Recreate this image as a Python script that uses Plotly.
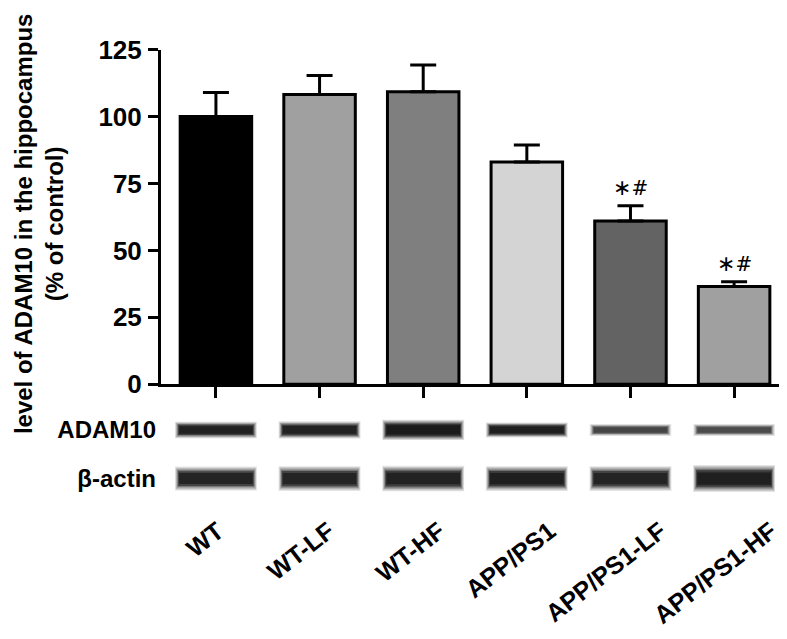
import plotly.graph_objects as go

# ADAM10 level in hippocampus, % of WT control
groups = ["WT", "WT-LF", "WT-HF", "APP/PS1", "APP/PS1-LF", "APP/PS1-HF"]
adam10_mean = [100, 108.3, 109.3, 83, 61, 36.5]
adam10_sem = [9, 7.1, 10, 6.4, 5.7, 1.8]
bar_colors = ["#000000", "#a0a0a0", "#7f7f7f", "#d4d4d4", "#636363", "#a0a0a0"]
significance = ["", "", "", "", "\u2217#", "\u2217#"]
y_ticks = [0, 25, 50, 75, 100, 125]

# western blot lanes: band thickness (row units) and darkness (0-1)
blot_rows = ["\u03b2-actin", "ADAM10"]
adam10_band = [0.22, 0.23, 0.27, 0.2, 0.16, 0.16]
adam10_dark = [0.9, 0.92, 1.0, 0.95, 0.62, 0.58]
actin_band = [0.32, 0.33, 0.34, 0.33, 0.33, 0.36]
actin_dark = [0.88, 0.88, 0.92, 0.95, 0.88, 0.95]

W, H = 787, 639
FONT = "Liberation Sans, Arial, sans-serif"
xdom = [153 / W, 780 / W]
xrange = [-0.53, 5.52]

fig = go.Figure()

fig.add_trace(go.Bar(
    x=groups, y=adam10_mean, width=0.69,
    marker=dict(color=bar_colors, line=dict(color="black", width=3)),
    error_y=dict(type="data", array=adam10_sem, arrayminus=[0] * len(groups),
                 symmetric=False, thickness=3, width=13, color="black"),
    showlegend=False, hoverinfo="skip",
))


def add_bands(row, thick, dark):
    # stacked translucent layers fake the soft edge of a blot band
    layers = [(1.55, 0.12, 0.79), (1.4, 0.16, 0.775), (1.25, 0.22, 0.76),
              (1.1, 0.3, 0.745), (0.95, 0.55, 0.73), (0.7, 0.6, 0.71)]
    for scale, alpha, w in layers:
        t = [v * scale for v in thick]
        fig.add_trace(go.Bar(
            x=groups, y=t, base=[row - v / 2 for v in t], width=w,
            marker=dict(color=[f"rgba(10,10,10,{d * alpha:.3f})" for d in dark],
                        line=dict(width=0)),
            xaxis="x2", yaxis="y2", showlegend=False, hoverinfo="skip",
        ))


add_bands(1, adam10_band, adam10_dark)
add_bands(0, actin_band, actin_dark)

# carrier for the rotated group labels under the blot
fig.add_trace(go.Scatter(x=groups, y=[0] * len(groups), mode="markers",
                         marker=dict(opacity=0), xaxis="x3", yaxis="y3",
                         showlegend=False, hoverinfo="skip"))

for g, m, s, txt in zip(groups, adam10_mean, adam10_sem, significance):
    if txt:
        star, rest = txt[0], txt[1:]
        label = f"<span style='font-family:DejaVu Sans;font-size:22px'>{star}</span>{rest}"
        fig.add_annotation(x=g, y=m + s, xref="x", yref="y", text=label, showarrow=False,
                           yanchor="bottom", yshift=4,
                           font=dict(family="DejaVu Serif, serif", size=20, color="black"))

fig.add_annotation(
    x=31 / W, y=1 - 211 / H, xref="paper", yref="paper",
    xanchor="center", yanchor="middle",
    text="level of ADAM10 in the hippocampus<br>(% of control)",
    textangle=-90, showarrow=False,
    font=dict(family=FONT, size=24, color="black", weight="bold"),
)

fig.update_layout(
    width=W, height=H,
    margin=dict(l=0, r=0, t=0, b=0),
    paper_bgcolor="white", plot_bgcolor="white",
    barmode="overlay",
    xaxis=dict(domain=xdom, range=xrange, type="category",
               showline=True, linewidth=3, linecolor="black",
               ticks="outside", ticklen=11, tickwidth=3, tickcolor="black",
               showticklabels=False, showgrid=False, zeroline=False),
    yaxis=dict(domain=[1 - 379 / H, 1 - 28 / H], range=[0, 125],
               tickvals=y_ticks, showline=True, linewidth=3, linecolor="black",
               ticks="outside", ticklen=10, tickwidth=3, tickcolor="black",
               tickfont=dict(family=FONT, size=26, color="black", weight="bold"),
               ticklabelstandoff=1,
               showgrid=False, zeroline=False),
    xaxis2=dict(domain=xdom, range=xrange, type="category", anchor="y2",
                showline=False, showticklabels=False, ticks="",
                showgrid=False, zeroline=False),
    yaxis2=dict(domain=[1 - 503.5 / H, 1 - 401.5 / H], range=[-0.5, 1.5], anchor="x2",
                tickvals=[0, 1], ticktext=blot_rows, ticks="",
                tickfont=dict(family=FONT, size=24, color="black", weight="bold"),
                ticklabelstandoff=4,
                showline=False, showgrid=False, zeroline=False),
    xaxis3=dict(domain=xdom, range=[-0.515, 5.154], type="category", anchor="y3",
                tickangle=-38, ticks="", showline=False, showgrid=False, zeroline=False,
                tickfont=dict(family=FONT, size=25, color="black", weight="bold")),
    yaxis3=dict(domain=[1 - 512 / H, 1 - 508 / H], range=[1, 2], anchor="x3",
                showticklabels=False, showline=False, showgrid=False, zeroline=False),
)

fig.write_html("out.html")
